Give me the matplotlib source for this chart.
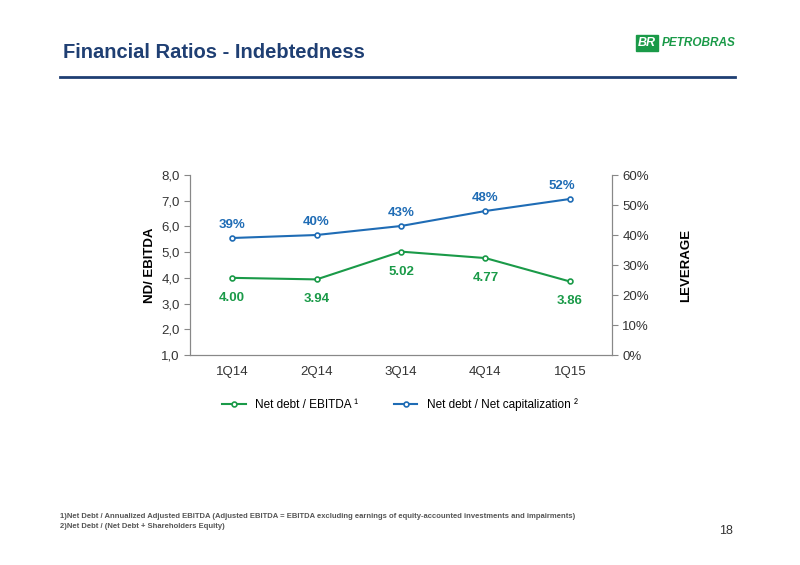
import matplotlib
matplotlib.use("Agg")
import matplotlib.pyplot as plt
from matplotlib import patches

plt.rcParams['font.family'] = ['Liberation Sans Narrow', 'Liberation Sans', 'DejaVu Sans']

quarters = ["1Q14", "2Q14", "3Q14", "4Q14", "1Q15"]
nd_ebitda = [4.00, 3.94, 5.02, 4.77, 3.86]
leverage = [39, 40, 43, 48, 52]
ebitda_labels = ["4.00", "3.94", "5.02", "4.77", "3.86"]
leverage_labels = ["39%", "40%", "43%", "48%", "52%"]

green = "#1a9a48"
blue = "#1f6cb5"
navy = "#1f3f73"
gray = "#888888"

fig = plt.figure(figsize=(8, 5.65), dpi=100)
W, H = 800, 565

# title + rule
fig.text(63 / W, 1 - 52 / H, "Financial Ratios - Indebtedness", fontsize=14.5, fontweight="bold",
         color=navy, va="center")
fig.add_artist(plt.Line2D([60 / W, 735 / W], [1 - 77 / H] * 2, color=navy, lw=2))

# logo
fig.add_artist(patches.Rectangle((636 / W, 1 - 51 / H), 22 / W, 16 / H, color=green))
fig.text(647 / W, 1 - 43 / H, "BR", fontsize=9, fontweight="bold", color="white",
         ha="center", va="center", style="italic")
fig.text(662 / W, 1 - 43 / H, "PETROBRAS", fontsize=8.5, fontweight="bold", color=green,
         va="center", style="italic")

ax = fig.add_axes([190 / W, 1 - 355 / H, 422 / W, 180 / H])
x = range(len(quarters))
ax.plot(x, nd_ebitda, color=green, lw=1.5, marker="o", ms=3.5, mfc="white", mew=1.2,
        label="Net debt / EBITDA ¹")
ax.set_ylim(1, 8)
ax.set_xlim(-0.5, 4.5)
ax.set_yticks([1, 2, 3, 4, 5, 6, 7, 8])
ax.set_yticklabels([f"{v},0" for v in range(1, 9)])
ax.set_xticks(list(x))
ax.set_xticklabels(quarters)
ax.set_ylabel("ND/ EBITDA", fontweight="bold", fontsize=9.5)

ax2 = ax.twinx()
ax2.plot(x, leverage, color=blue, lw=1.5, marker="o", ms=3.5, mfc="white", mew=1.2,
         label="Net debt / Net capitalization ²")
ax2.set_ylim(0, 60)
ax2.set_yticks(range(0, 61, 10))
ax2.set_yticklabels([f"{v}%" for v in range(0, 61, 10)])
ax2.set_ylabel("LEVERAGE", fontweight="bold", fontsize=9.5, labelpad=22)

for a in (ax, ax2):
    a.spines["top"].set_visible(False)
    for s in ("left", "right", "bottom"):
        a.spines[s].set_color(gray)
    a.tick_params(colors="#333333", labelsize=9.5, length=4)
    a.tick_params(axis="y", color=gray)
ax.tick_params(axis="x", length=0, pad=8)

for i, v in enumerate(nd_ebitda):
    ax.annotate(ebitda_labels[i], (i, v), xytext=(0, -10), textcoords="offset points",
                ha="center", va="top", color=green, fontweight="bold", fontsize=9.5)
for i, v in enumerate(leverage):
    ax2.annotate(leverage_labels[i], (i, v), xytext=(-6 if i == 4 else 0, 5),
                 textcoords="offset points", ha="center", va="bottom", color=blue,
                 fontweight="bold", fontsize=9.5)

h1, l1 = ax.get_legend_handles_labels()
h2, l2 = ax2.get_legend_handles_labels()
fig.legend(h1 + h2, l1 + l2, loc="center", bbox_to_anchor=(400 / W, 1 - 405 / H), ncol=2,
           frameon=False, fontsize=8.5, handlelength=2, columnspacing=3)

fig.text(60 / W, 1 - 517 / H,
         "1)Net Debt / Annualized Adjusted EBITDA (Adjusted EBITDA = EBITDA excluding earnings of equity-accounted investments and impairments)",
         fontsize=5.5, fontweight="bold", color="#555555", va="center")
fig.text(60 / W, 1 - 527 / H, "2)Net Debt / (Net Debt + Shareholders Equity)",
         fontsize=5.5, fontweight="bold", color="#555555", va="center")
fig.text(733 / W, 1 - 531 / H, "18", fontsize=9, color="#333333", ha="right", va="center")

fig.savefig("out.png", dpi=100)
